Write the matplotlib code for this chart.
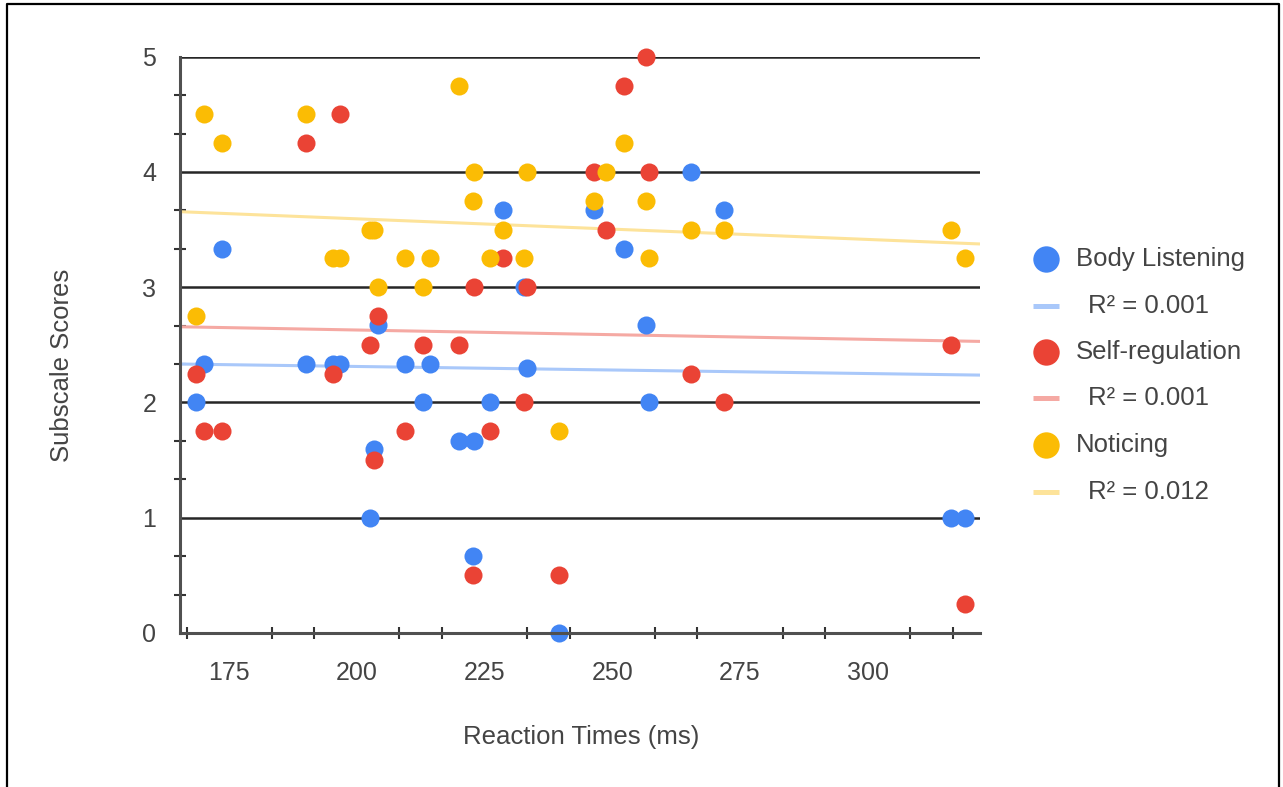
import numpy as np
import matplotlib
matplotlib.use("Agg")
import matplotlib.pyplot as plt
from matplotlib.ticker import FixedLocator

plt.rcParams['font.family'] = ['Liberation Sans', 'DejaVu Sans']

# reaction times (ms) and subscale scores per participant
reaction_times = [168.4, 170.1, 173.6, 190.0, 195.3, 196.6, 202.5, 203.4, 204.1, 209.5,
                  212.9, 214.4, 220.0, 222.9, 222.7, 226.1, 228.7, 233.3, 232.7, 239.5,
                  246.4, 248.7, 252.3, 256.7, 257.2, 265.5, 271.9, 316.3, 319.1]
body_listening = [2.0, 2.33, 3.33, 2.33, 2.33, 2.33, 1.0, 1.6, 2.67, 2.33,
                  2.0, 2.33, 1.67, 1.67, 0.67, 2.0, 3.67, 2.3, 3.0, 0.0,
                  3.67, np.nan, 3.33, 2.67, 2.0, 4.0, 3.67, 1.0, 1.0]
self_regulation = [2.25, 1.75, 1.75, 4.25, 2.25, 4.5, 2.5, 1.5, 2.75, 1.75,
                   2.5, np.nan, 2.5, 3.0, 0.5, 1.75, 3.25, 3.0, 2.0, 0.5,
                   4.0, 3.5, 4.75, 5.0, 4.0, 2.25, 2.0, 2.5, 0.25]
noticing = [2.75, 4.5, 4.25, 4.5, 3.25, 3.25, 3.5, 3.5, 3.0, 3.25,
            3.0, 3.25, 4.75, 4.0, 3.75, 3.25, 3.5, 4.0, 3.25, 1.75,
            3.75, 4.0, 4.25, 3.75, 3.25, 3.5, 3.5, 3.5, 3.25]

# linear trendlines as shown in the chart: (intercept, slope)
trend_body = (2.435, -0.000613)
trend_self = (2.791, -0.000811)
trend_noticing = (3.951, -0.001788)

series_names = ["Body Listening", "Self-regulation", "Noticing"]
r2_labels = ["R\u00b2 = 0.001", "R\u00b2 = 0.001", "R\u00b2 = 0.012"]
x_ticks = [175, 200, 225, 250, 275, 300]
y_ticks = [0, 1, 2, 3, 4, 5]

colors = ["#4285F4", "#EA4335", "#FBBC04"]
trend_colors = ["#A9C8FA", "#F5A9A3", "#FDE39A"]
text_col = "#444444"

W, H = 1283, 787
fig = plt.figure(figsize=(W / 100, H / 100), dpi=100)
ax = fig.add_axes([180 / W, 1 - 633 / H, 800 / W, (633 - 56.7) / H])

xlim = (165.36, 322.0)
ax.set_xlim(*xlim)
ax.set_ylim(0, 5)

x = np.array(reaction_times)
xs = np.array(xlim)
for (b, m), tc in zip([trend_body, trend_self, trend_noticing], trend_colors):
    ax.plot(xs, b + m * xs, color=tc, lw=2.2, zorder=3, solid_capstyle='butt')

for ys, c in zip([body_listening, self_regulation, noticing], colors):
    ax.plot(x, ys, 'o', color=c, ms=13, mew=0, zorder=4, clip_on=False)

# grid
for yv in y_ticks[1:]:
    ax.axhline(yv, color="#262626", lw=1.8, zorder=2)

for s in ['top', 'right']:
    ax.spines[s].set_visible(False)
for s in ['left', 'bottom']:
    ax.spines[s].set_color("#505050")
    ax.spines[s].set_linewidth(2.2)
    ax.spines[s].set_zorder(5)

ax.set_xticks(x_ticks)
ax.set_xticklabels([str(t) for t in x_ticks])
ax.set_yticks(y_ticks)
ax.set_yticklabels([str(t) for t in y_ticks])
ax.tick_params(axis='both', which='major', length=0, labelsize=18, labelcolor=text_col)
ax.tick_params(axis='x', which='major', pad=20)
ax.tick_params(axis='y', which='major', pad=17)

xminor = [v for v in np.arange(166.6667, 322, 25 / 3) if abs(v / 25 - round(v / 25)) > 0.01]
yminor = [v for v in np.arange(1 / 3, 5, 1 / 3) if abs(v - round(v)) > 0.01]
ax.xaxis.set_minor_locator(FixedLocator(xminor))
ax.yaxis.set_minor_locator(FixedLocator(yminor))
ax.tick_params(which='minor', direction='inout', length=9, width=1.5, color="#333333")

fig.text(581 / W, 1 - 737 / H, "Reaction Times (ms)", ha='center', va='center',
         fontsize=18.5, color=text_col)
fig.text(62 / W, 1 - 365 / H, "Subscale Scores", ha='center', va='center',
         rotation=90, fontsize=18.5, color=text_col)

# overlay in pixel coordinates for legend and frame
ov = fig.add_axes([0, 0, 1, 1], facecolor='none')
ov.set_xlim(0, W)
ov.set_ylim(H, 0)
ov.axis('off')
ov.plot([7, 7, 1279, 1279], [H + 5, 4, 4, H + 5], color='black', lw=1.6)

rows = [259, 306, 352, 398, 445, 492]
for i in range(3):
    ov.plot([1045.7], [rows[2 * i]], 'o', color=colors[i], ms=19, mew=0)
    ov.text(1076, rows[2 * i], series_names[i], va='center', ha='left',
            fontsize=18.5, color=text_col)
    ov.plot([1033, 1059], [rows[2 * i + 1]] * 2, color=trend_colors[i], lw=3.6,
            solid_capstyle='butt')
    ov.text(1088, rows[2 * i + 1], r2_labels[i], va='center', ha='left',
            fontsize=18.5, color=text_col)

fig.savefig("out.png", dpi=100)
